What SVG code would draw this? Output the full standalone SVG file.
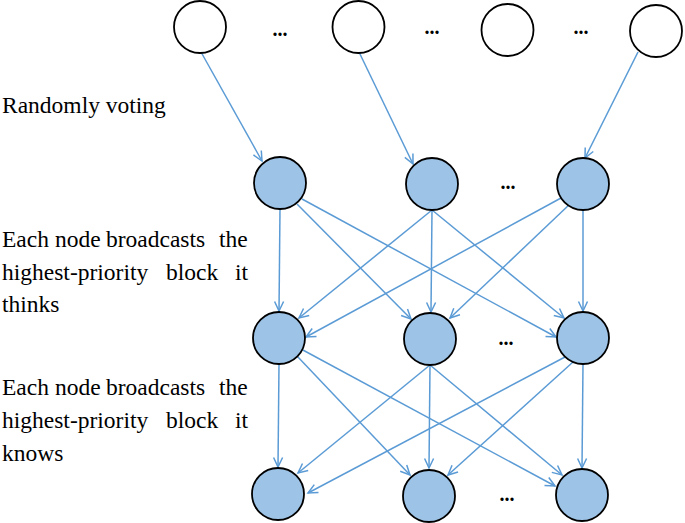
<svg xmlns="http://www.w3.org/2000/svg" width="685" height="523" viewBox="0 0 685 523">
<style>
.w{fill:#fff;stroke:#000;stroke-width:1.8}
.b{fill:#9dc3e6;stroke:#000;stroke-width:1.8}
.e{stroke:#5b9bd5;stroke-width:1.5;fill:none;marker-end:url(#ah)}
</style>
<defs>
<marker id="ah" markerUnits="userSpaceOnUse" viewBox="-11 -6 13 12" refX="0" refY="0" markerWidth="13" markerHeight="12" orient="auto">
<path d="M-9.5,-4.5 L0,0 L-9.5,4.5" fill="none" stroke="#5b9bd5" stroke-width="1.5"/>
</marker>
</defs>
<g id="connectors">
<line class="e" x1="201" y1="52" x2="262" y2="161"/>
<line class="e" x1="359" y1="52" x2="413" y2="164"/>
<line class="e" x1="638" y1="52" x2="585" y2="158"/>
<line class="e" x1="280" y1="209" x2="279" y2="311"/>
<line class="e" x1="297" y1="204" x2="411" y2="319"/>
<line class="e" x1="302" y1="199" x2="556" y2="337"/>
<line class="e" x1="432" y1="210" x2="299" y2="318"/>
<line class="e" x1="432" y1="210" x2="431" y2="312"/>
<line class="e" x1="432" y1="210" x2="564" y2="318"/>
<line class="e" x1="561" y1="198" x2="306" y2="337"/>
<line class="e" x1="571" y1="203" x2="450" y2="318"/>
<line class="e" x1="583" y1="210" x2="583" y2="311"/>
<line class="e" x1="279" y1="364" x2="278" y2="467"/>
<line class="e" x1="297" y1="356" x2="410" y2="475"/>
<line class="e" x1="301" y1="349" x2="555" y2="486"/>
<line class="e" x1="430" y1="365" x2="298" y2="473"/>
<line class="e" x1="430" y1="365" x2="429" y2="468"/>
<line class="e" x1="430" y1="365" x2="562" y2="475"/>
<line class="e" x1="565" y1="357" x2="308" y2="493"/>
<line class="e" x1="573" y1="362" x2="448" y2="475"/>
<line class="e" x1="583" y1="364" x2="582" y2="468"/>
</g>
<g id="t1"><circle class="w" cx="200" cy="27" r="26"/></g>
<g id="t2"><circle class="w" cx="358.5" cy="27" r="26"/></g>
<g id="t3"><circle class="w" cx="507.5" cy="30" r="26"/></g>
<g id="t4"><circle class="w" cx="656" cy="31" r="26"/></g>
<g id="l1a"><circle class="b" cx="280" cy="183" r="26"/></g>
<g id="l1b"><circle class="b" cx="432" cy="184" r="26"/></g>
<g id="l1c"><circle class="b" cx="583" cy="184" r="26"/></g>
<g id="l2a"><circle class="b" cx="279" cy="338" r="26"/></g>
<g id="l2b"><circle class="b" cx="430" cy="339" r="26"/></g>
<g id="l2c"><circle class="b" cx="583" cy="338" r="26"/></g>
<g id="l3a"><circle class="b" cx="278" cy="494" r="26"/></g>
<g id="l3b"><circle class="b" cx="429" cy="496" r="26"/></g>
<g id="l3c"><circle class="b" cx="582" cy="495" r="26"/></g>
<g id="dots" font-family="Liberation Serif, DejaVu Serif, serif" font-size="20" font-weight="bold" text-anchor="middle" fill="#000">
<text x="280" y="36">...</text>
<text x="432" y="34">...</text>
<text x="581" y="34">...</text>
<text x="508" y="189">...</text>
<text x="506" y="345">...</text>
<text x="507" y="501">...</text>
</g>
<g id="labels" font-family="Liberation Serif, DejaVu Serif, serif" font-size="23.5" fill="#000">
<text x="2" y="113">Randomly voting</text>
<text y="247"><tspan x="2">Each</tspan><tspan x="55">node</tspan><tspan x="106">broadcasts</tspan><tspan x="219">the</tspan></text>
<text y="280"><tspan x="2">highest-priority</tspan><tspan x="166">block</tspan><tspan x="235">it</tspan></text>
<text x="2" y="312">thinks</text>
<text y="395"><tspan x="2">Each</tspan><tspan x="55">node</tspan><tspan x="106">broadcasts</tspan><tspan x="219">the</tspan></text>
<text y="428"><tspan x="2">highest-priority</tspan><tspan x="166">block</tspan><tspan x="235">it</tspan></text>
<text x="2" y="461">knows</text>
</g>
</svg>
